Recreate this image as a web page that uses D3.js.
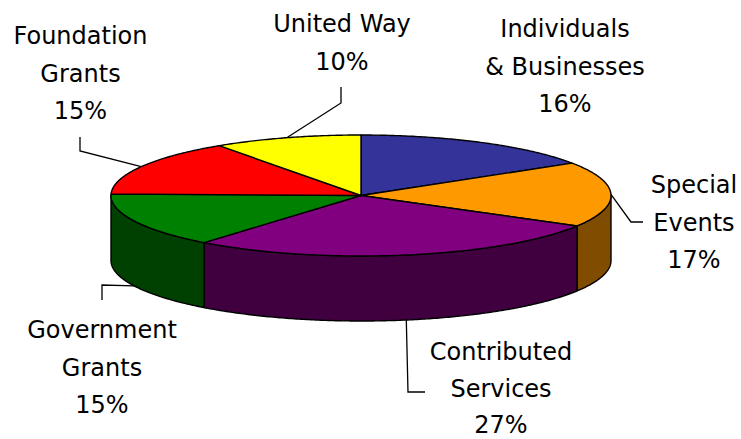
<!DOCTYPE html>
<html>
<head>
<meta charset="utf-8">
<script src="https://cdn.jsdelivr.net/npm/d3@7"></script>
<style>
  html, body { margin: 0; padding: 0; background: #fff; }
  svg { display: block; }
  text { font-family: "DejaVu Sans", sans-serif; font-size: 24px; fill: #000; }
</style>
</head>
<body>
<svg id="chart" width="741" height="439"></svg>
<script>
// ---- data ----
const categories = ["Individuals & Businesses", "Special Events", "Contributed Services",
                    "Government Grants", "Foundation Grants", "United Way"];
const values = [16.0, 17.4, 27.4, 14.6, 15.0, 9.6];
const labelLines = [["Individuals", "& Businesses"], ["Special", "Events"], ["Contributed", "Services"],
                    ["Government", "Grants"], ["Foundation", "Grants"], ["United Way"]];
const topColors  = ["#333399", "#FF9900", "#800080", "#008000", "#FF0000", "#FFFF00"];
const sideColors = ["#1A1A4D", "#804D00", "#400040", "#004000", "#800000", "#808000"];

// ---- layout ----
const W = 741, H = 439;
const cx = 361, cy = 195.5, rx = 250, ry = 60.5, depth = 65;
const labelLayout = [
  { x: 565,  y: 37,  lh: 37.5, leader: null },
  { x: 694,  y: 193, lh: 37.5, leader: [[643, 222], [631, 222]] },
  { x: 501,  y: 360, lh: 36.5, leader: [[425, 392], [408, 392]] },
  { x: 102,  y: 338, lh: 37.5, leader: [[102, 300], [102, 285]] },
  { x: 80.5, y: 44,  lh: 37.5, leader: [[80, 137], [80, 151]] },
  { x: 342,  y: 32,  lh: 37.5, leader: [[341, 87], [341, 103]] }
];

const svg = d3.select("#chart");
const total = d3.sum(values);
const pie = d3.pie().sort(null).value(d => d)(values);

// scales: unit circle -> ellipse in screen space
const xScale = d3.scaleLinear().domain([-1, 1]).range([cx - rx, cx + rx]);
const yScale = d3.scaleLinear().domain([-1, 1]).range([cy - ry, cy + ry]);
const pt = (a, dz = 0) => [xScale(Math.sin(a)), yScale(-Math.cos(a)) + dz];
const arcPts = (a0, a1, dz = 0) => {
  const n = Math.max(2, Math.ceil(Math.abs(a1 - a0) / 0.01));
  return d3.range(n + 1).map(i => pt(a0 + (a1 - a0) * i / n, dz));
};
const line = d3.line().curve(d3.curveLinear);

const stroke = "#000", sw = 1.4;

// ---- side walls (front half only) ----
const gSide = svg.append("g");
pie.forEach((d, i) => {
  const s = Math.max(d.startAngle, Math.PI / 2);
  const e = Math.min(d.endAngle, 3 * Math.PI / 2);
  if (e <= s) return;
  const pts = arcPts(s, e).concat(arcPts(e, s, depth));
  gSide.append("path")
    .attr("d", line(pts) + "Z")
    .attr("fill", sideColors[i])
    .attr("stroke", stroke).attr("stroke-width", sw).attr("stroke-linejoin", "round");
});

// ---- top faces ----
const gTop = svg.append("g");
pie.forEach((d, i) => {
  const pts = [[cx, cy]].concat(arcPts(d.startAngle, d.endAngle));
  gTop.append("path")
    .attr("d", line(pts) + "Z")
    .attr("fill", topColors[i])
    .attr("stroke", stroke).attr("stroke-width", sw).attr("stroke-linejoin", "round");
});

// ---- leader lines ----
const gLead = svg.append("g");
pie.forEach((d, i) => {
  const L = labelLayout[i];
  if (!L.leader) return;
  const mid = (d.startAngle + d.endAngle) / 2;
  const end = Math.cos(mid) >= 0 ? pt(mid) : pt(mid, depth);
  gLead.append("path")
    .attr("d", line(L.leader.concat([end])))
    .attr("fill", "none").attr("stroke", "#000").attr("stroke-width", 1.3);
});

// ---- labels ----
const gLab = svg.append("g");
pie.forEach((d, i) => {
  const L = labelLayout[i];
  const lines = labelLines[i].concat([Math.round(d.data / total * 100) + "%"]);
  const t = gLab.append("text").attr("text-anchor", "middle");
  lines.forEach((s, j) => {
    t.append("tspan").attr("x", L.x).attr("y", L.y + j * L.lh).text(s);
  });
});
</script>
</body>
</html>
